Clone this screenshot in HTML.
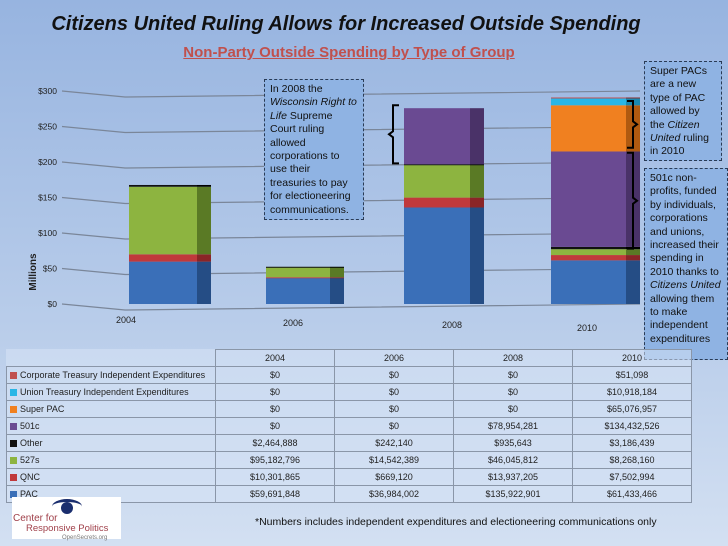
<!DOCTYPE html>
<html><head><meta charset="utf-8"><style>
body{margin:0;width:728px;height:546px;overflow:hidden;font-family:"Liberation Sans",sans-serif;background:linear-gradient(#97b4e0,#b9cdea 60%,#d3e0f2);position:relative}
.t{position:absolute}
table{position:absolute;left:6px;top:349px;border-collapse:collapse;font-size:9px;color:#222;background:rgba(215,227,245,.55)}
td{border:1px solid #8a96a8;height:16px;padding:0 3px;text-align:center;line-height:16px}
td.l{text-align:left;width:202px}
.sw{display:inline-block;width:7px;height:7px;margin-right:3px;vertical-align:-1px}
.box{position:absolute;border:1.5px dashed #2a3b55;background:#8fb3e3;font-size:10.5px;line-height:13.4px;padding:3px 5px;color:#111;box-sizing:border-box}
</style></head><body>
<div class="t" style="left:0;width:692px;top:13px;text-align:center;font-size:20px;font-weight:bold;font-style:italic;color:#111">Citizens United Ruling Allows for Increased Outside Spending</div>
<div class="t" style="left:0;width:698px;top:44px;text-align:center;font-size:15px;font-weight:bold;color:#c0504d;text-decoration:underline">Non-Party Outside Spending by Type of Group</div>
<svg class="t" style="left:0;top:0" width="728" height="346" id="chart"></svg>
<div class="box" style="left:264px;top:79px;width:100px;height:141px">In 2008 the <i>Wisconsin Right to Life</i> Supreme Court ruling allowed corporations to use their treasuries to pay for electioneering communications.</div>
<div class="box" style="left:644px;top:61px;width:78px;height:100px">Super PACs are a new type of PAC allowed by the <i>Citizen United</i> ruling in 2010</div>
<div class="box" style="left:644px;top:168px;width:84px;height:192px">501c non-profits, funded by individuals, corporations and unions, increased their spending in 2010 thanks to <i>Citizens United</i> allowing them to make independent expenditures</div>
<table id="tbl"></table>
<div class="t" style="left:12px;top:497px;width:109px;height:42px;background:#fff;font-size:10px;color:#a0404a;line-height:10px">
<div style="position:absolute;left:40px;top:2px;width:30px;height:12px;border-top:3px solid #1a2e6e;border-radius:50% 50% 0 0"></div>
<div style="position:absolute;left:49px;top:5px;width:12px;height:12px;border-radius:50%;background:#1a2e6e"></div>
<div style="position:absolute;left:1px;top:17px">Center for</div>
<div style="position:absolute;left:14px;top:27px;font-size:9.5px">Responsive Politics</div>
<div style="position:absolute;left:50px;top:36px;font-size:6px;color:#777">OpenSecrets.org</div></div>
<div class="t" style="left:255px;top:516px;font-size:10.5px;color:#111">*Numbers includes independent expenditures and electioneering communications only</div>
<script>
const years=['2004','2006','2008','2010'];
const seriesNames=['PAC','QNC','527s','Other','501c','Super PAC','Union Treasury Independent Expenditures','Corporate Treasury Independent Expenditures'];
const pac=[59691848,36984002,135922901,61433466];
const qnc=[10301865,669120,13937205,7502994];
const s527=[95182796,14542389,46045812,8268160];
const other=[2464888,242140,935643,3186439];
const c501=[0,0,78954281,134432526];
const superPac=[0,0,0,65076957];
const union=[0,0,0,10918184];
const corp=[0,0,0,51098];
const yTicks=[0,50,100,150,200,250,300];
const series=[pac,qnc,s527,other,c501,superPac,union,corp];
const colors=['#3a6fb8','#c0393b','#8db440','#111111','#6a4a92','#f08020','#29b6e6','#c05050'];
const sides=['#254d85','#8a2527','#5a7a25','#000','#4a3268','#b05a10','#1a88b0','#8a3030'];
const NS='http://www.w3.org/2000/svg';
const svg=document.getElementById('chart');
const y0=304,ppm=213/300;
const Y=v=>y0-v*ppm;
const bx=[129,266,404,551],bw=[68,64,66,75];
function mk(t,a){const e=document.createElementNS(NS,t);for(const k in a)e.setAttribute(k,a[k]);svg.appendChild(e);return e;}
yTicks.forEach(t=>{
 const l=mk('polyline',{points:`62,${Y(t)} 125,${Y(t)+6} 640,${Y(t)}`,fill:'none',stroke:'#7a8699','stroke-width':1.2});
 
 const tx=mk('text',{x:57,y:Y(t)+3,'text-anchor':'end','font-size':8.5,fill:'#222'});tx.textContent='$'+t;
 
});
const yt=mk('text',{x:36,y:272,'font-size':10,'font-weight':'bold',fill:'#222',transform:'rotate(-90 36 272)','text-anchor':'middle'});yt.textContent='Millions';

const xl=[[126,323],[293,326],[452,328],[587,331]];
years.forEach((yr,i)=>{
 let acc=0;
 series.forEach((s,j)=>{
  const v=s[i]/1e6;if(v<=0)return;
  const top=Y(acc+v),bot=Y(acc);acc+=v;
  const h=Math.max(bot-top,1);
  const r=mk('rect',{x:bx[i],y:top,width:bw[i],height:h,fill:colors[j]});
  
  
  const sd=mk('rect',{x:bx[i]+bw[i],y:top,width:14,height:h,fill:sides[j]});
  
  
 });
 const tx=mk('text',{x:xl[i][0],y:xl[i][1],'text-anchor':'middle','font-size':9,fill:'#222'});tx.textContent=yr;
 
});
function brace(x,y1,y2,dir){const m=(y1+y2)/2;const p=mk('path',{d:`M${x+6*dir},${y1} L${x},${y1} L${x},${m-3} L${x-4*dir},${m} L${x},${m+3} L${x},${y2} L${x+6*dir},${y2}`,fill:'none',stroke:'#000','stroke-width':2});
}
brace(393,Y(280),Y(198),1);
brace(633,Y(286),Y(220),-1);
brace(633,Y(213),Y(78),-1);
const tbl=document.getElementById('tbl');
const fmt=n=>'$'+n.toLocaleString('en-US');
let h='<tr><td style="border-left:none;border-top:none;background:transparent"></td>'+years.map(y=>'<td style="width:112px">'+y+'</td>').join('')+'</tr>';
for(let j=7;j>=0;j--){
 h+='<tr><td class="l"><span class="sw" style="background:'+colors[j]+'"></span>'+seriesNames[j]+'</td>'+series[j].map(v=>'<td>'+fmt(v)+'</td>').join('')+'</tr>';
}
tbl.innerHTML=h;
</script>
</body></html>
